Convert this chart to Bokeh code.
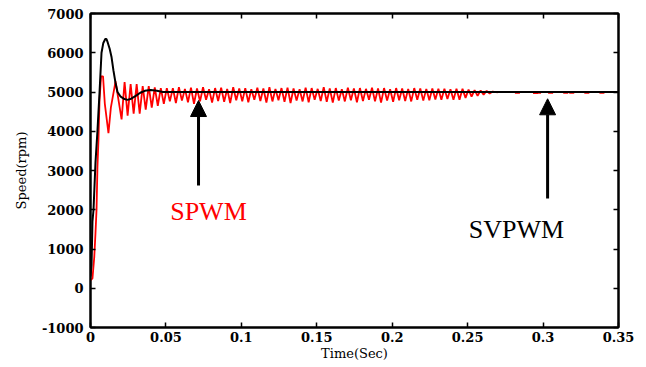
from bokeh.plotting import figure
from bokeh.models import (Range1d, FixedTicker, LinearAxis, Label, Arrow, NormalHead,
                          CustomJSTickFormatter)
from bokeh.embed import file_html
from bokeh.resources import INLINE

# ---- data ----
# SVPWM (black) speed response
svpwm_t = [0.0, 0.0007, 0.0013, 0.002, 0.0033, 0.0046, 0.006, 0.0073, 0.0085, 0.0098,
           0.0106, 0.0115, 0.0127, 0.0139, 0.0152, 0.0165, 0.0179, 0.020, 0.0225, 0.0245,
           0.027, 0.030, 0.033, 0.036, 0.040, 0.044, 0.048, 0.35]
svpwm_v = [300, 600, 1700, 2000, 3200, 4000, 5000, 6000, 6250, 6350,
           6350, 6250, 6100, 5900, 5550, 5250, 5000, 4880, 4820, 4800,
           4830, 4900, 4980, 5030, 5050, 5030, 5000, 5000]

# SPWM (red) start-up part
spwm_t_start = [0.0, 0.0013, 0.0025, 0.0033, 0.004, 0.0046, 0.0053, 0.006, 0.007, 0.0083,
                0.0095, 0.0119, 0.0135, 0.0166]
spwm_v_start = [200, 250, 800, 1400, 2000, 3080, 3800, 4800, 5400, 5400,
                4700, 3950, 4600, 5270]

# SPWM ripple: troughs and crests of each cycle (cycle period 0.004 s from 0.0206 s)
spwm_osc_t0 = 0.0206
spwm_osc_period = 0.004
spwm_lo = [4300, 4400, 4450, 4450, 4550, 4600, 4650, 4700,
           4760, 4720, 4780, 4740, 4700, 4760, 4800, 4730,
           4770, 4750, 4720, 4790, 4760, 4740, 4800, 4770,
           4730, 4760, 4790, 4750, 4720, 4780, 4760, 4740,
           4800, 4770, 4750, 4730, 4780, 4760, 4790, 4740,
           4770, 4800, 4760, 4730, 4780, 4750, 4790, 4770,
           4760, 4800, 4780, 4790, 4810, 4800, 4820, 4800,
           4800, 4850, 4880, 4900, 4930, 4960]
spwm_hi = [5250, 5200, 5200, 5150, 5150, 5120, 5100, 5100,
           5100, 5120, 5080, 5110, 5090, 5120, 5070, 5100,
           5110, 5080, 5120, 5090, 5100, 5070, 5110, 5090,
           5120, 5080, 5100, 5110, 5090, 5070, 5110, 5100,
           5080, 5120, 5090, 5100, 5070, 5110, 5090, 5100,
           5080, 5110, 5090, 5100, 5070, 5100, 5090, 5080,
           5100, 5090, 5080, 5090, 5080, 5080, 5070, 5080,
           5080, 5060, 5050, 5040, 5030, 5010]
spwm_end_t = [0.27]
spwm_end_v = [4990]

# isolated red marks after the ripple dies out
spwm_dot_t = [0.283, 0.295, 0.297, 0.305, 0.315, 0.319, 0.329, 0.339]
spwm_dot_v = [4980, 4975, 4980, 4980, 4980, 4980, 4980, 4980]

x_ticks = [0, 0.05, 0.1, 0.15, 0.2, 0.25, 0.3, 0.35]
x_tick_labels = ["0", "0.05", "0.1", "0.15", "0.2", "0.25", "0.3", "0.35"]
y_ticks = [-1000, 0, 1000, 2000, 3000, 4000, 5000, 6000, 7000]
y_tick_labels = ["-1000", "0", "1000", "2000", "3000", "4000", "5000", "6000", "7000"]

# build SPWM trace
spwm_t = list(spwm_t_start)
spwm_v = list(spwm_v_start)
for k, (lo, hi) in enumerate(zip(spwm_lo, spwm_hi)):
    t_lo = spwm_osc_t0 + spwm_osc_period * k
    spwm_t += [t_lo, t_lo + spwm_osc_period / 2]
    spwm_v += [lo, hi]
spwm_t += spwm_end_t
spwm_v += spwm_end_v

p = figure(width=646, height=367, output_backend="svg", toolbar_location=None,
           x_range=Range1d(0, 0.35), y_range=Range1d(-1000, 7000),
           min_border_left=90, min_border_right=28, min_border_top=13, min_border_bottom=40)
p.background_fill_color = "white"
p.border_fill_color = "white"
p.grid.visible = False
p.outline_line_color = "black"
p.outline_line_width = 2

p.line(spwm_t, spwm_v, line_color="#ff0000", line_width=1.8)
p.scatter(spwm_dot_t, spwm_dot_v, marker="dash", size=5, line_color="#ff0000", line_width=2)
p.line(svpwm_t, svpwm_v, line_color="black", line_width=2)

tick_font = "DejaVu Serif"
for ax in (p.xaxis[0], p.yaxis[0]):
    ax.major_tick_in = 5
    ax.major_tick_out = 0
    ax.minor_tick_in = 0
    ax.minor_tick_out = 0
    ax.axis_line_width = 2
    ax.major_tick_line_width = 1.5
    ax.major_label_text_font = tick_font
    ax.major_label_text_font_style = "bold"
    ax.major_label_text_font_size = "13px"
    ax.major_label_text_color = "black"

p.xaxis[0].ticker = FixedTicker(ticks=x_ticks)
p.xaxis[0].major_label_overrides = dict(zip(x_ticks, x_tick_labels))
p.xaxis[0].major_label_standoff = 4
p.xaxis[0].axis_label = "Time(Sec)"
p.xaxis[0].axis_label_text_font = tick_font
p.xaxis[0].axis_label_text_font_style = "normal"
p.xaxis[0].axis_label_text_font_size = "13px"
p.xaxis[0].axis_label_text_color = "black"
p.xaxis[0].axis_label_standoff = 1

p.yaxis[0].ticker = FixedTicker(ticks=y_ticks)
p.yaxis[0].major_label_overrides = dict(zip(y_ticks, y_tick_labels))
p.yaxis[0].major_label_standoff = 7
p.yaxis[0].axis_label = "Speed(rpm)"
p.yaxis[0].axis_label_text_font = tick_font
p.yaxis[0].axis_label_text_font_style = "normal"
p.yaxis[0].axis_label_text_font_size = "13px"
p.yaxis[0].axis_label_text_color = "black"
p.yaxis[0].axis_label_standoff = 10

for loc, tks in (("above", x_ticks), ("right", y_ticks)):
    ax = LinearAxis(ticker=FixedTicker(ticks=tks), major_tick_in=5, major_tick_out=0,
                    minor_tick_in=0, minor_tick_out=0, axis_line_width=2,
                    major_tick_line_width=1.5,
                    formatter=CustomJSTickFormatter(code="return ''"),
                    major_label_standoff=0)
    p.add_layout(ax, loc)

# arrows
p.add_layout(Arrow(x_start=0.0716, y_start=2618, x_end=0.0716, y_end=4783,
                   line_width=3, line_color="black",
                   end=NormalHead(size=16, fill_color="black", line_color="black")))
p.add_layout(Arrow(x_start=0.303, y_start=2287, x_end=0.303, y_end=4827,
                   line_width=3, line_color="black",
                   end=NormalHead(size=16, fill_color="black", line_color="black")))

p.add_layout(Label(x=0.0782, y=1955, text="SPWM", text_font="Liberation Serif",
                   text_font_size="26px", text_align="center", text_baseline="middle",
                   text_color="#ff0000"))
p.add_layout(Label(x=0.2824, y=1497, text="SVPWM", text_font="Liberation Serif",
                   text_font_size="26px", text_align="center", text_baseline="middle",
                   text_color="black"))

open("out.html", "w").write(file_html(p, INLINE))
